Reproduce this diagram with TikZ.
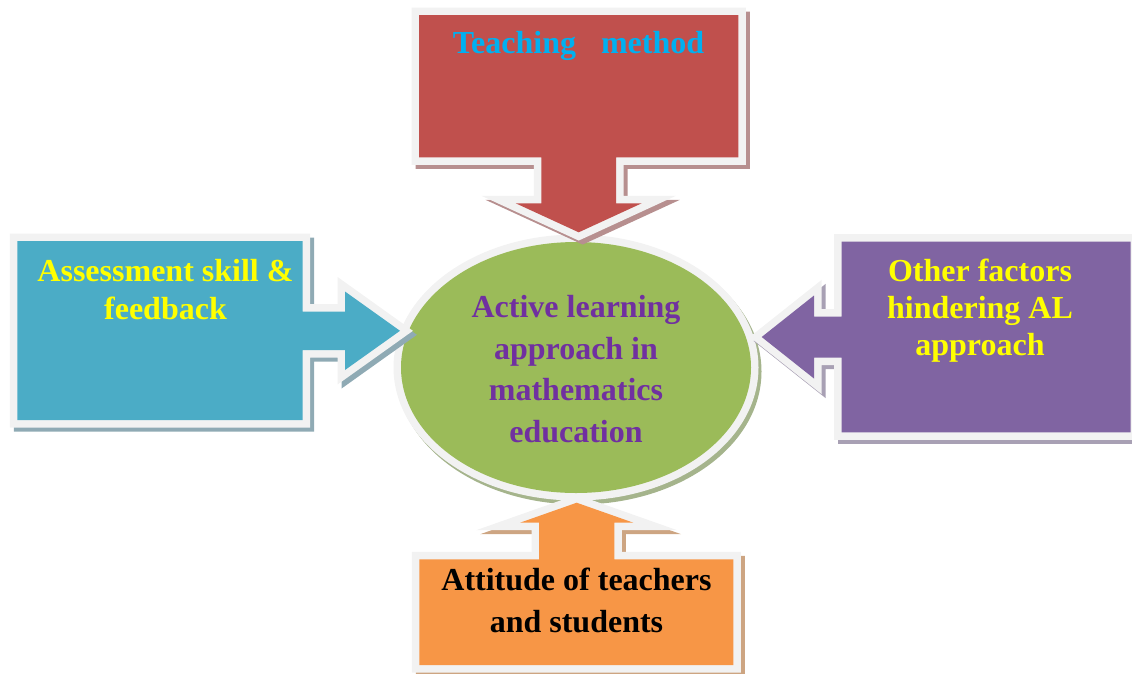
\documentclass[tikz,border=0pt]{standalone}
\usepackage{fontspec}
\setmainfont{Liberation Serif}

% Office-style palette
\definecolor{rimgray}{RGB}{242,242,242}
\definecolor{redfill}{RGB}{192,80,77}
\definecolor{redshadow}{RGB}{183,143,143}
\definecolor{bluefill}{RGB}{75,172,198}
\definecolor{blueshadow}{RGB}{143,170,180}
\definecolor{purplefill}{RGB}{128,100,162}
\definecolor{purpleshadow}{RGB}{168,160,180}
\definecolor{orangefill}{RGB}{247,150,70}
\definecolor{orangeshadow}{RGB}{205,165,130}
\definecolor{greenfill}{RGB}{155,187,89}
\definecolor{greenshadow}{RGB}{165,180,140}
\definecolor{cyantext}{RGB}{0,176,240}
\definecolor{purpletext}{RGB}{112,48,160}
\definecolor{yellowtext}{RGB}{255,255,0}

\tikzset{
  % outline of each callout, traced along its coloured area
  topshape/.style={insert path={(419,15) -- (738.3,15) -- (738.3,157.3) -- (616,157.3)
      -- (616,203.3) -- (641.7,203.3) -- (578.7,232.3) -- (515.7,203.3) -- (541.4,203.3)
      -- (541.4,157.3) -- (419,157.3) -- cycle}},
  leftshape/.style={insert path={(17.3,241) -- (302.7,241) -- (302.7,311.5) -- (345,311.5)
      -- (345,291.5) -- (400,330.8) -- (345,370) -- (345,350) -- (302.7,350)
      -- (302.7,420) -- (17.3,420) -- cycle}},
  rightshape/.style={insert path={(1130.7,241.7) -- (841.7,241.7) -- (841.7,316.5) -- (814,316.5)
      -- (814,295.5) -- (761.7,337) -- (814,378.5) -- (814,357.5) -- (841.7,357.5)
      -- (841.7,432.3) -- (1130.7,432.3) -- cycle}},
  bottomshape/.style={insert path={(419.3,559.3) -- (539,559.3) -- (539,522.7) -- (520,522.7)
      -- (576.7,502.7) -- (633.4,522.7) -- (614.4,522.7) -- (614.4,559.3) -- (733.3,559.3)
      -- (733.3,665) -- (419.3,665) -- cycle}},
  hubshape/.style={insert path={(576,367.5) ellipse [x radius=175pt, y radius=125.5pt]}},
  % three layers: drop shadow, light rim, coloured body
  dropshadow/.style={fill=#1, draw=#1, line width=15pt, line join=miter},
  rim/.style={draw=rimgray, line width=15pt, line join=miter},
  body/.style={fill=#1},
  lbl/.style={align=center, inner sep=0pt, font=\bfseries\fontsize{32}{#1}\selectfont},
}

\begin{document}
\begin{tikzpicture}[x=1pt, y=-1pt]
  \useasboundingbox (0,0) rectangle (1132,673);
  \clip (0,0) rectangle (1132,673);

  % central ellipse
  \path[dropshadow=greenshadow, shift={(3,4)}, hubshape];
  \path[rim, hubshape];
  \path[body=greenfill, hubshape];

  % four callout arrows pointing at the centre
  \foreach \shape/\col in {topshape/red, leftshape/blue, rightshape/purple, bottomshape/orange}{
    \path[dropshadow=\col shadow, shift={(4,4)}, \shape];
    \path[rim, \shape];
    \path[body=\col fill, \shape];
  }

  % labels
  \node[lbl=38, text=cyantext, anchor=base] (teach) at (578.5,53) {Teaching\hspace{25pt}method};
  \node[lbl=38, text=yellowtext] (assess) at (165.5,289.2) {Assessment skill \&\\feedback};
  \node[lbl=37, text=yellowtext] (other) at (980,310.6) {Other factors\\hindering AL\\approach};
  \node[lbl=41.7, text=black] (attitude) at (576.5,600.5) {Attitude of teachers\\and students};
  \node[lbl=41.7, text=purpletext] (core) at (576,369) {Active learning\\approach in\\mathematics\\education};
\end{tikzpicture}
\end{document}
